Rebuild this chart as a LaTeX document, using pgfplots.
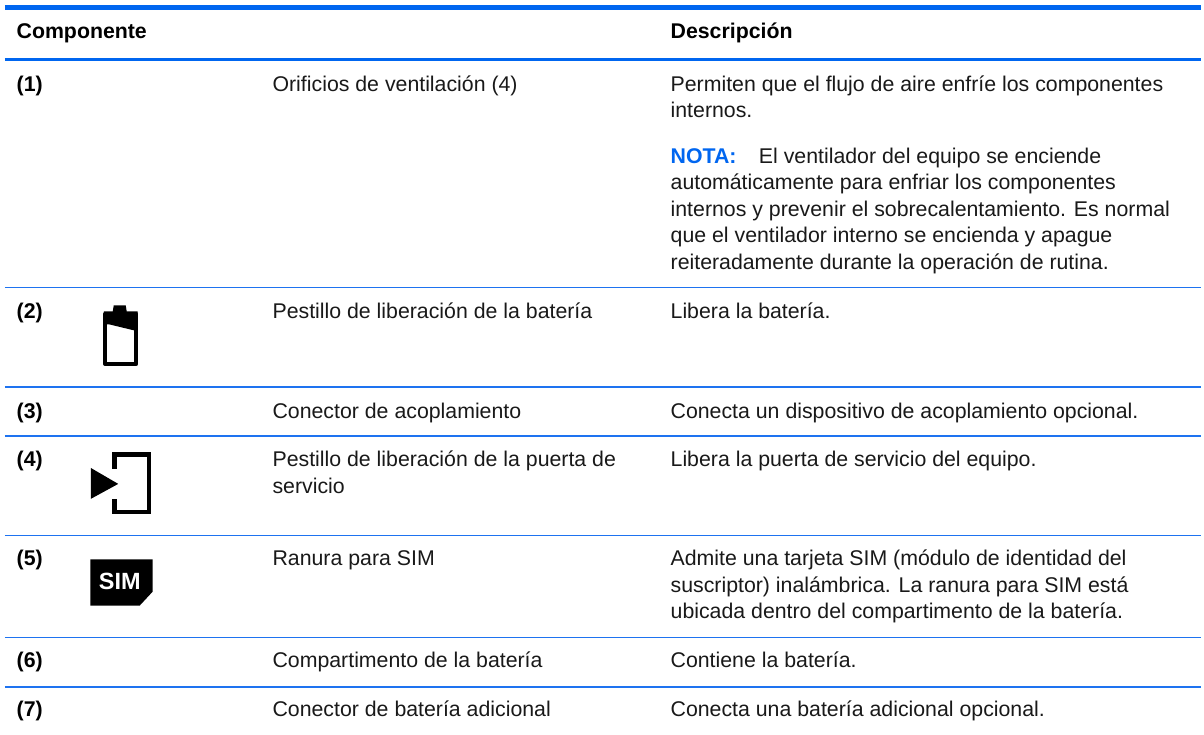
\documentclass[border=0pt]{standalone}
\usepackage{pgfplots}
\pgfplotsset{compat=1.18}
\usepackage{fontspec}
\setmainfont{Liberation Sans}
\definecolor{hpblue}{RGB}{0,102,240}
\definecolor{rowblue}{RGB}{30,115,240}
\newcommand{\T}[3]{\node[anchor=base west,inner sep=0pt,text=black!90,font=\fontsize{21.35}{21.35}\selectfont] at (axis cs:#1,#2) {#3};}
\newcommand{\B}[3]{\node[anchor=base west,inner sep=0pt,font=\fontsize{21.35}{21.35}\selectfont\bfseries] at (axis cs:#1,#2) {#3};}
\begin{document}
\begin{tikzpicture}
\begin{axis}[width=1204pt,height=736pt,scale only axis,xmin=0,xmax=1204,ymin=0,ymax=736,y dir=reverse,hide axis,clip=false]
\addplot[fill=white,draw=none] coordinates {(0,0)(1204,0)(1204,736)(0,736)} --cycle;
% rules
\addplot[hpblue,line width=5.5pt] coordinates {(5,7.5)(1204,7.5)};
\addplot[hpblue,line width=3pt] coordinates {(5,59.7)(1204,59.7)};
\addplot[rowblue,line width=1.4pt] coordinates {(5,288)(1204,288)};
\addplot[rowblue,line width=1.4pt] coordinates {(5,387.7)(1204,387.7)};
\addplot[rowblue,line width=1.4pt] coordinates {(5,437)(1204,437)};
\addplot[rowblue,line width=1.4pt] coordinates {(5,537)(1204,537)};
\addplot[rowblue,line width=1.4pt] coordinates {(5,639)(1204,639)};
\addplot[rowblue,line width=1.4pt] coordinates {(5,688.7)(1204,688.7)};
% header
\B{16.5}{39}{Componente}
\B{672}{39}{Descripción}
% row numbers
\B{16.5}{91.5}{(1)}
\B{16.5}{319.3}{(2)}
\B{16.5}{419}{(3)}
\B{16.5}{467.7}{(4)}
\B{16.5}{567}{(5)}
\B{16.5}{669.3}{(6)}
\B{16.5}{718.3}{(7)}
% middle col
\T{273}{91.5}{Orificios de ventilación (4)}
\T{273}{319.3}{Pestillo de liberación de la batería}
\T{273}{419}{Conector de acoplamiento}
\T{273}{467.7}{Pestillo de liberación de la puerta de}
\T{273}{495}{servicio}
\T{273}{567}{Ranura para SIM}
\T{273}{669.3}{Compartimento de la batería}
\T{273}{718.3}{Conector de batería adicional}
% right col
\T{672}{91.5}{Permiten que el flujo de aire enfríe los componentes}
\T{672}{118}{internos.}
\node[anchor=base west,inner sep=0pt,font=\fontsize{21.35}{21.35}\selectfont\bfseries,text=hpblue] at (axis cs:672,163.5) {NOTA:};
\T{760.5}{163.5}{El ventilador del equipo se enciende}
\T{672}{190}{automáticamente para enfriar los componentes}
\T{672}{216.7}{internos y prevenir el sobrecalentamiento. Es normal}
\T{672}{243.3}{que el ventilador interno se encienda y apague}
\T{672}{270}{reiteradamente durante la operación de rutina.}
\T{672}{319.3}{Libera la batería.}
\T{672}{419}{Conecta un dispositivo de acoplamiento opcional.}
\T{672}{467.7}{Libera la puerta de servicio del equipo.}
\T{672}{567}{Admite una tarjeta SIM (módulo de identidad del}
\T{672}{593.4}{suscriptor) inalámbrica. La ranura para SIM está}
\T{672}{620}{ubicada dentro del compartimento de la batería.}
\T{672}{669.3}{Contiene la batería.}
\T{672}{718.3}{Conecta una batería adicional opcional.}
% battery icon
\addplot[black,line width=4pt,line join=round] coordinates {(105.5,314.5)(136.5,314.5)(136.5,365)(105.5,365)} --cycle;
\addplot[fill=black,draw=none] coordinates {(104,312)(113,312)(114,306)(126,306)(127,312)(138,312)(138,332)(109,325)(104,325)} --cycle;
% door icon
\addplot[black,line width=4.5pt] coordinates {(115,470)(115,455.5)(149.5,455.5)(149.5,513)(115,513)(115,500)};
\addplot[fill=black,draw=none] coordinates {(91,469)(118.5,485)(91,500)} --cycle;
% SIM icon
\addplot[fill=black,draw=none] coordinates {(90.5,560.7)(153,560.7)(153,593)(140,607)(90.5,607)} --cycle;
\node[text=white,inner sep=0pt,font=\fontsize{23.5}{23.5}\selectfont\bfseries] at (axis cs:120,583) {SIM};
\end{axis}
\end{tikzpicture}
\end{document}
